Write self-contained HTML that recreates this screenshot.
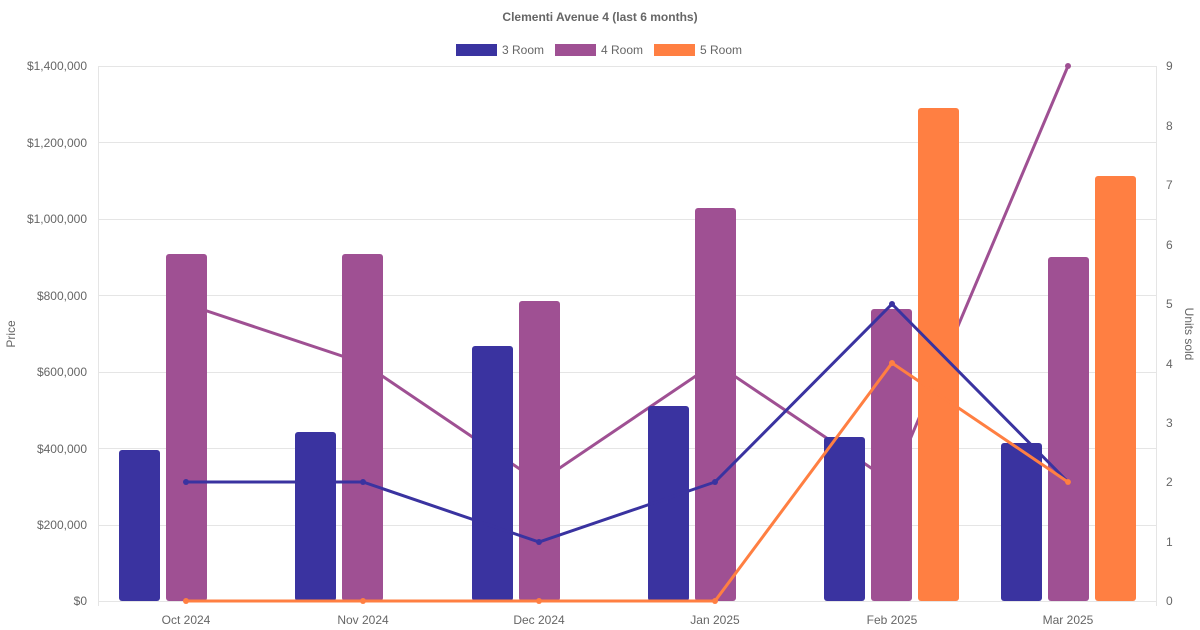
<!DOCTYPE html>
<html><head><meta charset="utf-8"><style>
html,body{margin:0;padding:0;background:#fff;}
svg{display:block;font-family:"Liberation Sans",Arial,sans-serif;}
</style></head><body>
<svg width="1200" height="630" viewBox="0 0 1200 630" xmlns="http://www.w3.org/2000/svg">
<text x="600" y="21" text-anchor="middle" font-size="12" font-weight="bold" fill="#666">Clementi Avenue 4 (last 6 months)</text>
<rect x="456" y="44" width="41" height="12" fill="#3a33a0"/>
<text x="502" y="54" font-size="12" fill="#666">3 Room</text>
<rect x="555" y="44" width="41" height="12" fill="#9f5093"/>
<text x="601" y="54" font-size="12" fill="#666">4 Room</text>
<rect x="654" y="44" width="41" height="12" fill="#ff7f42"/>
<text x="700" y="54" font-size="12" fill="#666">5 Room</text>
<g stroke="#e5e5e5" stroke-width="1">
<line x1="98" y1="66.5" x2="1156" y2="66.5"/>
<line x1="98" y1="142.5" x2="1156" y2="142.5"/>
<line x1="98" y1="219.5" x2="1156" y2="219.5"/>
<line x1="98" y1="295.5" x2="1156" y2="295.5"/>
<line x1="98" y1="372.5" x2="1156" y2="372.5"/>
<line x1="98" y1="448.5" x2="1156" y2="448.5"/>
<line x1="98" y1="525.5" x2="1156" y2="525.5"/>
<line x1="98" y1="601.5" x2="1156" y2="601.5"/>
<line x1="98.5" y1="66" x2="98.5" y2="606"/>
<line x1="1156.5" y1="66" x2="1156.5" y2="606"/>
</g>
<g font-size="12" fill="#666" text-anchor="end">
<text x="87" y="70">$1,400,000</text>
<text x="87" y="147">$1,200,000</text>
<text x="87" y="223">$1,000,000</text>
<text x="87" y="300">$800,000</text>
<text x="87" y="376">$600,000</text>
<text x="87" y="453">$400,000</text>
<text x="87" y="529">$200,000</text>
<text x="87" y="605">$0</text>
</g>
<g font-size="12" fill="#666">
<text x="1166" y="70">9</text><text x="1166" y="130">8</text><text x="1166" y="249">6</text>
<text x="1166" y="189">7</text><text x="1166" y="308">5</text><text x="1166" y="368">4</text>
<text x="1166" y="427">3</text><text x="1166" y="486">2</text><text x="1166" y="546">1</text>
<text x="1166" y="605">0</text>
</g>
<g font-size="12" fill="#666" text-anchor="middle">
<text x="186" y="624">Oct 2024</text><text x="363" y="624">Nov 2024</text><text x="539" y="624">Dec 2024</text>
<text x="715" y="624">Jan 2025</text><text x="892" y="624">Feb 2025</text><text x="1068" y="624">Mar 2025</text>
</g>
<text transform="translate(15,334) rotate(-90)" text-anchor="middle" font-size="12" fill="#666">Price</text>
<text transform="translate(1185,334) rotate(90)" text-anchor="middle" font-size="12" fill="#666">Units sold</text>
<polyline points="186,304 363,363 539,482 715,363 892,482 1068,66" fill="none" stroke="#9f5093" stroke-width="3"/>
<circle cx="1068" cy="66" r="3" fill="#9f5093"/>
<g fill="#3a33a0">
<rect x="119" y="450" width="41" height="151" rx="3"/>
<rect x="295" y="432" width="41" height="169" rx="3"/>
<rect x="472" y="346" width="41" height="255" rx="3"/>
<rect x="648" y="406" width="41" height="195" rx="3"/>
<rect x="824" y="437" width="41" height="164" rx="3"/>
<rect x="1001" y="443" width="41" height="158" rx="3"/>
</g>
<g fill="#9f5093">
<rect x="166" y="254" width="41" height="347" rx="3"/>
<rect x="342" y="254" width="41" height="347" rx="3"/>
<rect x="519" y="301" width="41" height="300" rx="3"/>
<rect x="695" y="208" width="41" height="393" rx="3"/>
<rect x="871" y="309" width="41" height="292" rx="3"/>
<rect x="1048" y="257" width="41" height="344" rx="3"/>
</g>
<g fill="#ff7f42">
<rect x="918" y="108" width="41" height="493" rx="3"/>
<rect x="1095" y="176" width="41" height="425" rx="3"/>
</g>
<polyline points="186,482 363,482 539,542 715,482 892,304 1068,482" fill="none" stroke="#3a33a0" stroke-width="3"/>
<g fill="#3a33a0"><circle cx="186" cy="482" r="3"/><circle cx="363" cy="482" r="3"/><circle cx="539" cy="542" r="3"/><circle cx="715" cy="482" r="3"/><circle cx="892" cy="304" r="3"/><circle cx="1068" cy="482" r="3"/></g>
<polyline points="186,601 363,601 539,601 715,601 892,363 1068,482" fill="none" stroke="#ff7f42" stroke-width="3"/>
<g fill="#ff7f42"><circle cx="186" cy="601" r="3"/><circle cx="363" cy="601" r="3"/><circle cx="539" cy="601" r="3"/><circle cx="715" cy="601" r="3"/><circle cx="892" cy="363" r="3"/><circle cx="1068" cy="482" r="3"/></g>
</svg>
</body></html>
